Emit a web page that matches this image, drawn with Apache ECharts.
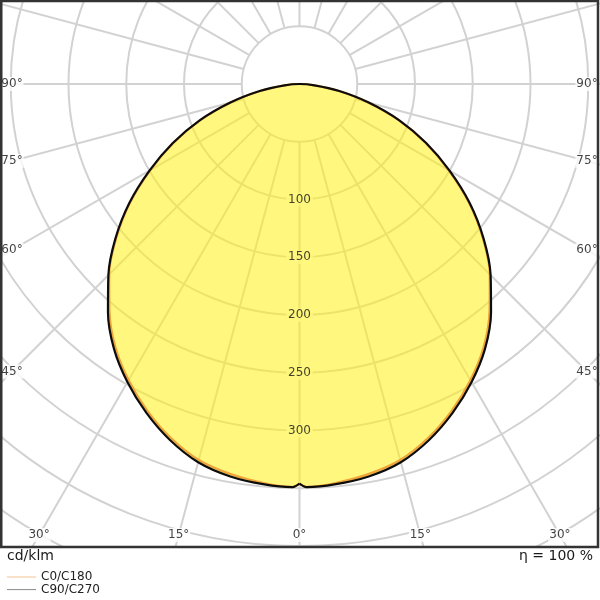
<!DOCTYPE html>
<html><head><meta charset="utf-8">
<script src="https://cdn.jsdelivr.net/npm/echarts@6/dist/echarts.min.js"></script>
<style>html,body{margin:0;padding:0;background:#fff}#c{width:600px;height:600px}</style>
</head><body><div id="c"></div>
<script>
// gamma angles (deg from nadir) and luminous intensity (cd/klm)
const gammaAngles = [0, 1, 5, 10, 15, 20, 25, 30, 35, 40, 45, 50, 55, 60, 65, 70, 75, 80, 85, 90];
const c0c180  = [346, 349, 347, 343, 337, 326, 312, 296, 278, 256, 233, 207, 179, 149, 120, 91, 61, 34, 13, 0];
const c90c270 = [346, 349, 348, 345, 339, 328, 314, 298, 280, 258, 234, 208, 180, 150, 121, 92, 62, 35, 13, 0];
const radialTicks = [100, 150, 200, 250, 300];
const angleTicks = [0, 15, 30, 45, 60, 75, 90];
const seriesNames = ['C0/C180', 'C90/C270'];
const unitText = 'cd/klm';
const effText = 'η = 100 %';

const FONT = 'DejaVu Sans';
const CX = 299.5, CY = 84, R = 577.5, RMAX = 500;
const pxPerUnit = R / RMAX;
const fillColor = 'rgba(255,240,20,0.55)';
const fillComposite = '#fff87e';

// closed profile: left half (C180 / C270) 0..90, then right half (C0 / C90) back down to 0
function profile(vals) {
  const left = gammaAngles.map((g, i) => [vals[i], g]);
  const right = [];
  for (let k = gammaAngles.length - 2; k >= 0; k--) right.push([vals[k], 360 - gammaAngles[k]]);
  return left.concat(right);
}

// angle labels sit where each radial line meets an inset of the frame
function labelRadius(a) {
  const s = Math.sin(a * Math.PI / 180), c = Math.cos(a * Math.PI / 180);
  let t = Infinity;
  if (s > 1e-9) t = Math.min(t, (CX - 12) / s);
  if (s < -1e-9) t = Math.min(t, (587 - CX) / -s);
  if (c > 1e-9) t = Math.min(t, (535 - CY) / c);
  return t / pxPerUnit;
}
const angleLabelData = [];
angleTicks.slice().reverse().forEach(g => angleLabelData.push([labelRadius(g), g, g]));
angleTicks.slice(1).forEach(g => angleLabelData.push([labelRadius(360 - g), 360 - g, g]));

const chart = echarts.init(document.getElementById('c'), null, {renderer: 'canvas'});
chart.setOption({
  animation: false,
  textStyle: {fontFamily: FONT},
  polar: [
    {center: [CX, CY], radius: [50 * pxPerUnit, R]},
    {center: [CX, CY], radius: [0, R]}
  ],
  angleAxis: [
    {polarIndex: 0, type: 'value', min: 0, max: 360, interval: 15, startAngle: 270, clockwise: true,
     axisLine: {show: false}, axisTick: {show: false}, axisLabel: {show: false},
     splitLine: {show: true, lineStyle: {color: '#d2d2d2', width: 2}}},
    {polarIndex: 1, type: 'value', min: 0, max: 360, startAngle: 270, clockwise: true, show: false}
  ],
  radiusAxis: [
    {polarIndex: 0, type: 'value', min: 50, max: RMAX, interval: 50,
     axisLine: {show: false}, axisTick: {show: false}, axisLabel: {show: false},
     splitLine: {show: true, lineStyle: {color: '#d2d2d2', width: 2}}},
    {polarIndex: 1, type: 'value', min: 0, max: RMAX, show: false}
  ],
  legend: {
    orient: 'vertical', left: 7, top: 571, padding: 0, itemWidth: 29, itemHeight: 1, itemGap: 0.6,
    textStyle: {fontSize: 12, lineHeight: 12, color: '#222', fontFamily: FONT},
    data: [
      {name: seriesNames[0], icon: 'rect', itemStyle: {color: '#f5c590'}},
      {name: seriesNames[1], icon: 'rect', itemStyle: {color: '#8a8a8a'}}
    ]
  },
  title: [
    {text: unitText, left: 7, top: 549, padding: 0,
     textStyle: {fontSize: 14, fontWeight: 'normal', color: '#1a1a1a', fontFamily: FONT}},
    {text: effText, right: 7, top: 549, padding: 0,
     textStyle: {fontSize: 14, fontWeight: 'normal', color: '#1a1a1a', fontFamily: FONT}}
  ],
  series: [
    {name: 'fill', type: 'line', coordinateSystem: 'polar', polarIndex: 1, data: profile(c90c270),
     symbol: 'none', smooth: 0.3, silent: true, lineStyle: {width: 0}, areaStyle: {color: fillColor, opacity: 1}},
    {name: seriesNames[0], type: 'line', coordinateSystem: 'polar', polarIndex: 1, data: profile(c0c180),
     symbol: 'none', smooth: 0.3, itemStyle: {color: '#f0a53a'}, lineStyle: {color: '#f0a53a', width: 2.2}},
    {name: seriesNames[1], type: 'line', coordinateSystem: 'polar', polarIndex: 1, data: profile(c90c270),
     symbol: 'none', smooth: 0.3, itemStyle: {color: '#0d0d0d'}, lineStyle: {color: '#0d0d0d', width: 2.2}},
    {name: 'radialLabels', type: 'scatter', coordinateSystem: 'polar', polarIndex: 1, silent: true,
     data: radialTicks.map(v => [v, 0]), symbolSize: 0.01, z: 5,
     label: {show: true, position: 'inside', formatter: p => String(p.value[0]), color: '#111',
             fontSize: 12, fontFamily: FONT, backgroundColor: fillComposite, padding: [1, 2]}},
    {name: 'angleLabels', type: 'scatter', coordinateSystem: 'polar', polarIndex: 1, silent: true,
     data: angleLabelData, symbolSize: 0.01, z: 5,
     label: {show: true, position: 'inside', formatter: p => p.value[2] + '°', color: '#111',
             fontSize: 12, fontFamily: FONT, backgroundColor: '#fff', padding: [1, 1]}}
  ],
  graphic: [
    {type: 'rect', z: 3, silent: true, shape: {x: 0, y: 548, width: 600, height: 52}, style: {fill: '#fff'}},
    {type: 'rect', z: 10, silent: true, shape: {x: 1.25, y: 1, width: 596.75, height: 546},
     style: {fill: 'none', stroke: '#333', lineWidth: 2.5}}
  ]
});
</script></body></html>
